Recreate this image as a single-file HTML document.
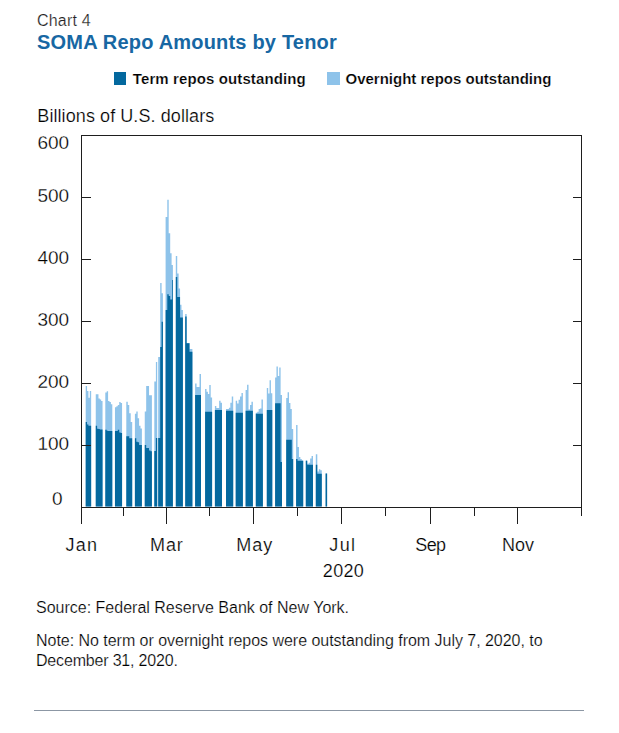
<!DOCTYPE html>
<html><head><meta charset="utf-8"><style>
html,body{margin:0;padding:0;background:#fff;width:619px;height:733px;overflow:hidden}
body{position:relative;font-family:"Liberation Sans",sans-serif;color:#2b2b2b}
.t{position:absolute;white-space:nowrap;line-height:1;-webkit-text-stroke:0.22px #fff}
.chart4{left:37px;top:13px;font-size:16px;letter-spacing:0.2px;color:#222}
.title{left:37px;top:32px;font-size:20px;font-weight:bold;letter-spacing:0.2px;color:#1767a3;-webkit-text-stroke:0}
.leg{top:71.2px;font-size:15px;font-weight:bold;color:#000;-webkit-text-stroke:0.2px #fff}
.unit{left:37.3px;top:106.8px;font-size:18px;letter-spacing:0.08px;color:#000}
.yl{font-size:19px;color:#000;-webkit-text-stroke:0.28px #fff}
.xl{top:536px;font-size:18px;color:#000}
.src{left:36px;font-size:16px;color:#000}

</style></head><body>
<svg width="619" height="733" viewBox="0 0 619 733" style="position:absolute;left:0;top:0">
<path fill="#8ec3ea" d="M85.7 385.9H87.06V506.4H85.7ZM87.06 391H88.43V506.4H87.06ZM88.43 397.7H89.79V506.4H88.43ZM89.79 391H91.15V506.4H89.79ZM95.75 394.3H97.11V506.4H95.75ZM97.11 394.3H98.47V506.4H97.11ZM98.47 398.6H99.82V506.4H98.47ZM99.82 399.6H101.18V506.4H99.82ZM101.18 401H102.54V506.4H101.18ZM105.3 392.4H106.7V506.4H105.3ZM106.7 391.3H108.1V506.4H106.7ZM108.1 401H109.5V506.4H108.1ZM109.5 402H110.9V506.4H109.5ZM110.9 404.3H112.3V506.4H110.9ZM114.96 407.2H116.38V506.4H114.96ZM116.38 406.2H117.8V506.4H116.38ZM117.8 405H119.23V506.4H117.8ZM119.23 402.1H120.65V506.4H119.23ZM120.65 403.1H122.07V506.4H120.65ZM126.3 401.8H127.77V506.4H126.3ZM127.77 405H129.25V506.4H127.77ZM129.25 413.3H130.72V506.4H129.25ZM130.72 422H132.2V506.4H130.72ZM134.9 413.8H136.3V506.4H134.9ZM136.3 411.6H137.7V506.4H136.3ZM137.7 418.2H139.1V506.4H137.7ZM139.1 425.8H140.5V506.4H139.1ZM140.5 428.6H141.9V506.4H140.5ZM144.75 411.6H146.18V506.4H144.75ZM146.18 385.9H147.61V506.4H146.18ZM147.61 385.9H149.04V506.4H147.61ZM149.04 395.2H150.47V506.4H149.04ZM150.47 395.2H151.9V506.4H150.47ZM154.3 381.5H155.9V506.4H154.3ZM155.9 362H157.2V506.4H155.9ZM158.2 356.9H160.2V506.4H158.2ZM160.2 283.1H161.6V506.4H160.2ZM161.6 293.2H162.9V506.4H161.6ZM165.6 217H167.3V506.4H165.6ZM167.3 199.8H168.7V506.4H167.3ZM168.7 233.2H170.2V506.4H168.7ZM170.2 253.3H171.6V506.4H170.2ZM171.6 265H172.9V506.4H171.6ZM175.8 256.1H177.22V506.4H175.8ZM177.22 273.6H178.64V506.4H177.22ZM178.64 288.4H180.06V506.4H178.64ZM180.06 304.7H181.48V506.4H180.06ZM181.48 310H182.9V506.4H181.48ZM185.2 314.1H186.64V506.4H185.2ZM186.64 343H188.08V506.4H186.64ZM188.08 343H189.52V506.4H188.08ZM189.52 348.9H190.96V506.4H189.52ZM190.96 348.9H192.4V506.4H190.96ZM195.1 383.4H196.57V506.4H195.1ZM196.57 387H198.05V506.4H196.57ZM198.05 387H199.53V506.4H198.05ZM199.53 374.1H201V506.4H199.53ZM205.1 388.9H206.5V506.4H205.1ZM206.5 391.7H207.9V506.4H206.5ZM207.9 394.1H209.3V506.4H207.9ZM209.3 385.1H210.7V506.4H209.3ZM210.7 397.5H212.1V506.4H210.7ZM214.9 406H216.32V506.4H214.9ZM216.32 408H217.74V506.4H216.32ZM217.74 408H219.16V506.4H217.74ZM219.16 400.8H220.58V506.4H219.16ZM220.58 402.7H222V506.4H220.58ZM226 409.1H227.44V506.4H226ZM227.44 408.9H228.88V506.4H227.44ZM228.88 407.7H230.32V506.4H228.88ZM230.32 402.7H231.76V506.4H230.32ZM231.76 396.5H233.2V506.4H231.76ZM235.7 400.8H237.14V506.4H235.7ZM237.14 403.6H238.58V506.4H237.14ZM238.58 399.8H240.02V506.4H238.58ZM240.02 396.5H241.46V506.4H240.02ZM241.46 393.1H242.9V506.4H241.46ZM245.6 390H247.06V506.4H245.6ZM247.06 384.8H248.52V506.4H247.06ZM248.52 409.4H249.98V506.4H248.52ZM249.98 405.1H251.44V506.4H249.98ZM251.44 401.7H252.9V506.4H251.44ZM255.8 412.7H257.22V506.4H255.8ZM257.22 411.8H258.64V506.4H257.22ZM258.64 409.1H260.06V506.4H258.64ZM260.06 408.4H261.48V506.4H260.06ZM261.48 399.4H262.9V506.4H261.48ZM266.8 387.9H268.18V506.4H266.8ZM268.18 393.6H269.55V506.4H268.18ZM269.55 380.3H270.93V506.4H269.55ZM270.93 393.2H272.3V506.4H270.93ZM275.1 377.4H276.48V506.4H275.1ZM276.48 366.5H277.86V506.4H276.48ZM277.86 376H279.24V506.4H277.86ZM279.24 367.4H280.62V506.4H279.24ZM280.62 395.1H282V506.4H280.62ZM286.2 397.9H287.6V506.4H286.2ZM287.6 392.2H289V506.4H287.6ZM289 402.9H290.4V506.4H289ZM290.4 409.1H291.8V506.4H290.4ZM291.8 428.9H293.2V506.4H291.8ZM296.1 425H297.52V506.4H296.1ZM297.52 447H298.94V506.4H297.52ZM298.94 457H300.36V506.4H298.94ZM300.36 458.9H301.78V506.4H300.36ZM301.78 460.4H303.2V506.4H301.78ZM305.8 460.4H307.24V506.4H305.8ZM307.24 463.7H308.68V506.4H307.24ZM308.68 462.8H310.12V506.4H308.68ZM310.12 458.5H311.56V506.4H310.12ZM311.56 456H313V506.4H311.56ZM315.8 454.2H317.3V506.4H315.8ZM317.3 471.4H318.8V506.4H317.3ZM318.8 469.3H320.3V506.4H318.8ZM320.3 470.2H321.8V506.4H320.3ZM325.6 473.5H327.1V506.4H325.6Z"/>
<path fill="#04689e" d="M172.15 280H172.9V506.4H172.15ZM85.7 422.1H87.06V506.4H85.7ZM87.06 424.4H88.43V506.4H87.06ZM88.43 425.8H89.79V506.4H88.43ZM89.79 425.8H91.15V506.4H89.79ZM95.75 425.8H97.11V506.4H95.75ZM97.11 428.7H98.47V506.4H97.11ZM98.47 429.1H99.82V506.4H98.47ZM99.82 429.6H101.18V506.4H99.82ZM101.18 429.6H102.54V506.4H101.18ZM105.3 429.8H106.7V506.4H105.3ZM106.7 430.8H108.1V506.4H106.7ZM108.1 431H109.5V506.4H108.1ZM109.5 431H110.9V506.4H109.5ZM110.9 431H112.3V506.4H110.9ZM114.96 431H116.38V506.4H114.96ZM116.38 431H117.8V506.4H116.38ZM117.8 429.8H119.23V506.4H117.8ZM119.23 432.5H120.65V506.4H119.23ZM120.65 433H122.07V506.4H120.65ZM126.3 436.2H127.77V506.4H126.3ZM127.77 436.2H129.25V506.4H127.77ZM129.25 438.2H130.72V506.4H129.25ZM130.72 438.2H132.2V506.4H130.72ZM134.9 438.2H136.3V506.4H134.9ZM136.3 441.7H137.7V506.4H136.3ZM137.7 442.2H139.1V506.4H137.7ZM139.1 445H140.5V506.4H139.1ZM140.5 445H141.9V506.4H140.5ZM144.75 445H146.18V506.4H144.75ZM146.18 448H147.61V506.4H146.18ZM147.61 448H149.04V506.4H147.61ZM149.04 450.4H150.47V506.4H149.04ZM150.47 451.3H151.9V506.4H150.47ZM154.3 451H155.9V506.4H154.3ZM155.9 438.1H157.2V506.4H155.9ZM158.2 438.1H160.2V506.4H158.2ZM160.2 346.9H161.6V506.4H160.2ZM161.6 321.8H162.9V506.4H161.6ZM165.6 309.9H167.3V506.4H165.6ZM167.3 294.2H168.7V506.4H167.3ZM168.7 296H170.2V506.4H168.7ZM170.2 299.4H171.6V506.4H170.2ZM171.6 299.4H172.9V506.4H171.6ZM175.8 277H177.22V506.4H175.8ZM177.22 297H178.64V506.4H177.22ZM178.64 297H180.06V506.4H178.64ZM180.06 317.6H181.48V506.4H180.06ZM181.48 317.6H182.9V506.4H181.48ZM185.2 316.5H186.64V506.4H185.2ZM186.64 343.2H188.08V506.4H186.64ZM188.08 343.2H189.52V506.4H188.08ZM189.52 351.8H190.96V506.4H189.52ZM190.96 351.8H192.4V506.4H190.96ZM195.1 395.1H196.57V506.4H195.1ZM196.57 395.1H198.05V506.4H196.57ZM198.05 395.1H199.53V506.4H198.05ZM199.53 395.1H201V506.4H199.53ZM205.1 411.8H206.5V506.4H205.1ZM206.5 411.8H207.9V506.4H206.5ZM207.9 411.8H209.3V506.4H207.9ZM209.3 411.8H210.7V506.4H209.3ZM210.7 411.8H212.1V506.4H210.7ZM214.9 409.9H216.32V506.4H214.9ZM216.32 409.9H217.74V506.4H216.32ZM217.74 409.9H219.16V506.4H217.74ZM219.16 409.9H220.58V506.4H219.16ZM220.58 409.9H222V506.4H220.58ZM226 410.8H227.44V506.4H226ZM227.44 410.8H228.88V506.4H227.44ZM228.88 410.8H230.32V506.4H228.88ZM230.32 410.8H231.76V506.4H230.32ZM231.76 410.8H233.2V506.4H231.76ZM235.7 412.7H237.14V506.4H235.7ZM237.14 412.7H238.58V506.4H237.14ZM238.58 412.7H240.02V506.4H238.58ZM240.02 412.7H241.46V506.4H240.02ZM241.46 412.7H242.9V506.4H241.46ZM245.6 410.8H247.06V506.4H245.6ZM247.06 410.8H248.52V506.4H247.06ZM248.52 410.8H249.98V506.4H248.52ZM249.98 410.8H251.44V506.4H249.98ZM251.44 410.8H252.9V506.4H251.44ZM255.8 413.7H257.22V506.4H255.8ZM257.22 413.7H258.64V506.4H257.22ZM258.64 413.7H260.06V506.4H258.64ZM260.06 413.7H261.48V506.4H260.06ZM261.48 413.7H262.9V506.4H261.48ZM266.8 409.9H268.18V506.4H266.8ZM268.18 409.9H269.55V506.4H268.18ZM269.55 409.9H270.93V506.4H269.55ZM270.93 409.9H272.3V506.4H270.93ZM275.1 403.2H276.48V506.4H275.1ZM276.48 403.2H277.86V506.4H276.48ZM277.86 403.2H279.24V506.4H277.86ZM279.24 403.2H280.62V506.4H279.24ZM280.62 462H282V506.4H280.62ZM286.2 439.8H287.6V506.4H286.2ZM287.6 439.8H289V506.4H287.6ZM289 439.8H290.4V506.4H289ZM290.4 439.8H291.8V506.4H290.4ZM291.8 458.9H293.2V506.4H291.8ZM296.1 459.1H297.52V506.4H296.1ZM297.52 460.8H298.94V506.4H297.52ZM298.94 460.8H300.36V506.4H298.94ZM300.36 460.8H301.78V506.4H300.36ZM301.78 460.8H303.2V506.4H301.78ZM305.8 460.7H307.24V506.4H305.8ZM307.24 464.7H308.68V506.4H307.24ZM308.68 464.7H310.12V506.4H308.68ZM310.12 464.7H311.56V506.4H310.12ZM311.56 464.7H313V506.4H311.56ZM315.8 464.7H317.3V506.4H315.8ZM317.3 473.7H318.8V506.4H317.3ZM318.8 473.7H320.3V506.4H318.8ZM320.3 473.7H321.8V506.4H320.3ZM325.6 473.5H327.1V506.4H325.6Z"/>
<g fill="#1e1e1e">
<rect x="81" y="135" width="501" height="1"/>
<rect x="81" y="507" width="501" height="1"/>
<rect x="81" y="135" width="1" height="373"/>
<rect x="581" y="135" width="1" height="373"/>
<rect x="82" y="197" width="9" height="1"/>
<rect x="573" y="197" width="8" height="1"/>
<rect x="82" y="259" width="9" height="1"/>
<rect x="573" y="259" width="8" height="1"/>
<rect x="82" y="321" width="9" height="1"/>
<rect x="573" y="321" width="8" height="1"/>
<rect x="82" y="383" width="9" height="1"/>
<rect x="573" y="383" width="8" height="1"/>
<rect x="82" y="445" width="9" height="1"/>
<rect x="573" y="445" width="8" height="1"/>
<rect x="81" y="508" width="1" height="16"/>
<rect x="166" y="508" width="1" height="16"/>
<rect x="253" y="508" width="1" height="16"/>
<rect x="341" y="508" width="1" height="16"/>
<rect x="430" y="508" width="1" height="16"/>
<rect x="517" y="508" width="1" height="16"/>
<rect x="123" y="508" width="1" height="8"/>
<rect x="209" y="508" width="1" height="8"/>
<rect x="297" y="508" width="1" height="8"/>
<rect x="385" y="508" width="1" height="8"/>
<rect x="474" y="508" width="1" height="8"/>
<rect x="581" y="508" width="1" height="8"/>
</g>
<rect x="34" y="710" width="550" height="1" fill="#8c97a4"/>
<rect x="114" y="72" width="12" height="13" fill="#04689e"/>
<rect x="327" y="72" width="13" height="13" fill="#8ec3ea"/>
</svg>
<div class="t chart4">Chart 4</div>
<div class="t title">SOMA Repo Amounts by Tenor</div>
<div class="t leg" style="left:132.8px;letter-spacing:0.11px">Term repos outstanding</div>
<div class="t leg" style="left:345.5px">Overnight repos outstanding</div>
<div class="t unit">Billions of U.S. dollars</div>
<div class="t yl" style="left:37.4px;top:132.9px">600</div>
<div class="t yl" style="left:37.4px;top:186.2px">500</div>
<div class="t yl" style="left:37.4px;top:247.9px">400</div>
<div class="t yl" style="left:37.4px;top:309.5px">300</div>
<div class="t yl" style="left:37.4px;top:372.3px">200</div>
<div class="t yl" style="left:37.4px;top:433.9px">100</div>
<div class="t yl" style="left:52px;top:488.9px">0</div>
<div class="t xl" style="left:65.5px;letter-spacing:1.2px">Jan</div>
<div class="t xl" style="left:150px;letter-spacing:0.9px">Mar</div>
<div class="t xl" style="left:236.3px;letter-spacing:0.95px">May</div>
<div class="t xl" style="left:329.3px;letter-spacing:1.4px">Jul</div>
<div class="t xl" style="left:415.3px;letter-spacing:-0.6px">Sep</div>
<div class="t xl" style="left:502px">Nov</div>
<div class="t xl" style="left:322.8px;top:561.5px;letter-spacing:0.33px">2020</div>
<div class="t src" style="top:600.3px">Source: Federal Reserve Bank of New York.</div>
<div class="t src" style="top:633.4px;letter-spacing:-0.03px">Note: No term or overnight repos were outstanding from July 7, 2020, to</div>
<div class="t src" style="top:653.2px;letter-spacing:-0.18px">December 31, 2020.</div>

</body></html>
